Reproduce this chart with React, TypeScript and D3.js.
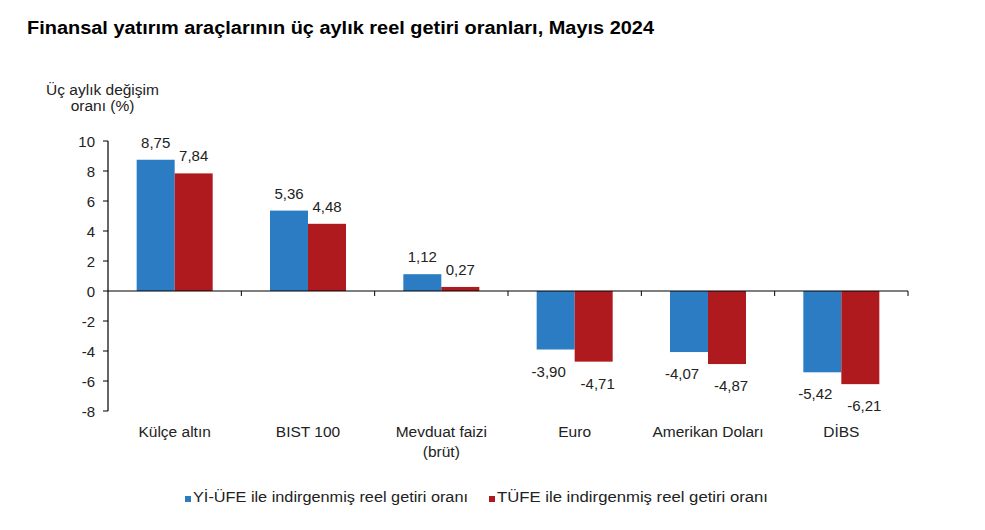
import React from "react";
import * as d3 from "d3";

const categories = ["Külçe altın", "BIST 100", "Mevduat faizi\n(brüt)", "Euro", "Amerikan Doları", "DİBS"];
const seriesNames = ["Yİ-ÜFE ile indirgenmiş reel getiri oranı", "TÜFE ile indirgenmiş reel getiri oranı"];
const yiufe = [8.75, 5.36, 1.12, -3.9, -4.07, -5.42];
const tufe = [7.84, 4.48, 0.27, -4.71, -4.87, -6.21];
const yTicks = [10, 8, 6, 4, 2, 0, -2, -4, -6, -8];
const colors = ["#2B7CC3", "#AF1A1E"];

const W = 985, H = 530;
const left = 108, right = 908, top = 141, bottom = 411;
const font = "Arial, 'Liberation Sans', sans-serif";
const legendX = [185, 489];
const legendLen = [275, 271];

export default function App() {
  const x = d3.scaleBand<string>().domain(categories).range([left, right]).paddingInner(0.43).paddingOuter(0.215);
  const y = d3.scaleLinear().domain([-8, 10]).range([bottom, top]);
  const series = [yiufe, tufe];
  const bw = x.bandwidth() / 2;
  const fmt = (v: number) => v.toFixed(2).replace(".", ",");
  const step = (right - left) / categories.length;
  return (
    <svg width={W} height={H} style={{ position: "absolute", left: 0, top: 0, background: "#fff" }} fontFamily={font}>
      <rect width={W} height={H} fill="#fff" />
      <text x={27} y={34} fontSize={17.5} fontWeight="bold" fill="#000" textLength={627} lengthAdjust="spacingAndGlyphs">
        Finansal yatırım araçlarının üç aylık reel getiri oranları, Mayıs 2024
      </text>
      <text x={102.5} y={95} fontSize={15.5} textAnchor="middle" fill="#222">Üç aylık değişim</text>
      <text x={102.5} y={111} fontSize={15.5} textAnchor="middle" fill="#222">oranı (%)</text>
      {series.map((vals, si) =>
        vals.map((v, i) => {
          const bx = (x(categories[i]) as number) + si * bw;
          const y0 = y(0), y1 = y(v);
          return (
            <g key={`${si}-${i}`}>
              <rect x={bx} y={Math.min(y0, y1)} width={bw} height={Math.abs(y1 - y0)} fill={colors[si]} />
              <text
                x={bx + bw / 2 + (v < 0 ? (si === 0 ? -7 : 4) : 0)}
                y={v >= 0 ? y1 - 12 : y1 + 27}
                fontSize={15}
                textAnchor="middle"
                fill="#222"
              >
                {fmt(v)}
              </text>
            </g>
          );
        })
      )}
      {/* y axis */}
      <line x1={left} x2={left} y1={top} y2={bottom} stroke="#000" strokeWidth={1.2} />
      {yTicks.map((t) => (
        <g key={t}>
          <line x1={left - 5} x2={left} y1={y(t)} y2={y(t)} stroke="#000" />
          <text x={95} y={y(t) + 5.5} fontSize={15} textAnchor="end" fill="#222">{t}</text>
        </g>
      ))}
      {/* x axis at zero */}
      <line x1={left} x2={right} y1={y(0)} y2={y(0)} stroke="#000" strokeWidth={1.2} />
      {d3.range(1, categories.length + 1).map((k) => (
        <line key={k} x1={left + k * step} x2={left + k * step} y1={y(0)} y2={y(0) + 5} stroke="#000" />
      ))}
      {categories.map((c) => {
        const cx = (x(c) as number) + x.bandwidth() / 2;
        return c.split("\n").map((line, li) => (
          <text key={c + li} x={cx} y={437 + li * 20} fontSize={15.5} textAnchor="middle" fill="#222">{line}</text>
        ));
      })}
      {/* legend */}
      {legendX.map((lx, i) => (
        <g key={i}>
          <rect x={lx} y={496} width={6} height={6} fill={colors[i]} />
          <text x={lx + 8} y={502} fontSize={15.5} fill="#222" textLength={legendLen[i]} lengthAdjust="spacingAndGlyphs">{seriesNames[i]}</text>
        </g>
      ))}
    </svg>
  );
}
